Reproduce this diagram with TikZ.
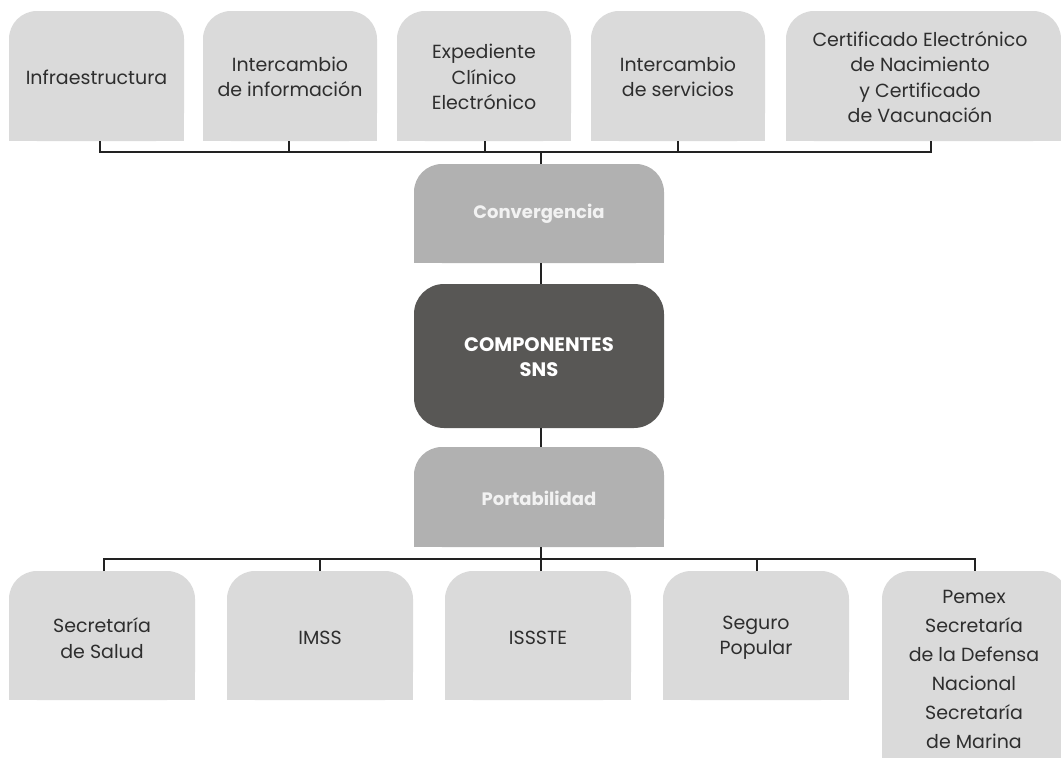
\documentclass[tikz,border=0pt]{standalone}
\usepackage{fontspec}
\setmainfont{Poppins}
\definecolor{lightbox}{HTML}{DADADA}
\definecolor{midbox}{HTML}{B1B1B1}
\definecolor{darkbox}{HTML}{585755}
\definecolor{txt}{HTML}{2E2E2E}
\definecolor{linec}{HTML}{222222}
\begin{document}
\begin{tikzpicture}[x=1pt,y=-1pt,
  boxtext/.style={text=txt,align=center,font=\fontsize{19}{25.5}\selectfont,inner sep=0pt},
  midtext/.style={text=white!95!black,align=center,font=\fontsize{18}{25}\selectfont\bfseries,inner sep=0pt},
  darktext/.style={text=white,align=center,font=\fontsize{19.5}{25}\selectfont\bfseries,inner sep=0pt},
  conn/.style={draw=linec,line width=1.1pt}]
\useasboundingbox (0,0) rectangle (1061,758);
\begin{scope}
\clip (0,0) rectangle (1061,758);
% top-rounded boxes: #1 x1, #2 y1, #3 x2, #4 y2, #5 colour
\newcommand{\tbox}[5]{%
  \fill[#5,rounded corners=28pt] (#1,#2) rectangle (#3,#4);
  \fill[#5] (#1,#2+40) rectangle (#3,#4);}
\tbox{9}{11}{184}{141}{lightbox}
\tbox{203}{11}{377}{141}{lightbox}
\tbox{397}{11}{571}{141}{lightbox}
\tbox{591}{11}{765}{141}{lightbox}
\tbox{786}{11}{1061}{141}{lightbox}
\tbox{414}{164}{664}{263}{midbox}
\fill[darkbox,rounded corners=30pt] (414,284) rectangle (664,428);
\tbox{414}{447}{664}{547}{midbox}
\tbox{9}{571}{195}{700}{lightbox}
\tbox{227}{571}{413}{700}{lightbox}
\tbox{445}{571}{631}{700}{lightbox}
\tbox{663}{571}{849}{700}{lightbox}
\tbox{882}{571}{1068}{780}{lightbox}
\end{scope}
% text nodes
\node[boxtext] (t1) at (96.5,77) {Infraestructura};
\node[boxtext] (t2) at (290,77) {Intercambio\\de información};
\node[boxtext] (t3) at (484,77) {Expediente\\Clínico\\Electrónico};
\node[boxtext] (t4) at (678,77) {Intercambio\\de servicios};
\node[boxtext] (t5) at (920,77) {Certificado Electrónico\\de Nacimiento\\y Certificado\\de Vacunación};
\node[midtext] (conv) at (539,214) {Convergencia};
\node[darktext] (comp) at (539,357) {COMPONENTES\\SNS};
\node[midtext] (port) at (539,498) {Portabilidad};
\node[boxtext] (b1) at (102,638) {Secretaría\\de Salud};
\node[boxtext] (b2) at (320,638) {IMSS};
\node[boxtext] (b3) at (538,638) {ISSSTE};
\node[boxtext] (b4) at (756,638) {Seguro\\Popular};
\node[boxtext,font=\fontsize{19}{29}\selectfont] (b5) at (974,669) {Pemex\\Secretaría\\de la Defensa\\Nacional\\Secretaría\\de Marina};
% anchor coordinates on box edges
\coordinate (t1s) at (100,141);
\coordinate (t2s) at (289,141);
\coordinate (t3s) at (485,141);
\coordinate (t4s) at (678,141);
\coordinate (t5s) at (931,141);
\coordinate (convN) at (541,164);
\coordinate (convS) at (541,263);
\coordinate (compN) at (541,284);
\coordinate (compS) at (541,428);
\coordinate (portN) at (541,447);
\coordinate (portS) at (541,547);
\coordinate (b1n) at (104,571);
\coordinate (b2n) at (320,571);
\coordinate (b3n) at (541,571);
\coordinate (b4n) at (757,571);
\coordinate (b5n) at (975,571);
% connectors
\draw[conn] (t1s) |- (t5s |- 0,152) -- (t5s);
\draw[conn] (t2s) -- (t2s |- 0,152);
\draw[conn] (t3s) -- (t3s |- 0,152);
\draw[conn] (t4s) -- (t4s |- 0,152);
\draw[conn] (convN) -- (convN |- 0,152);
\draw[conn] (convS) -- (compN);
\draw[conn] (compS) -- (portN);
\draw[conn] (b1n) |- (b5n |- 0,559) -- (b5n);
\draw[conn] (b2n) -- (b2n |- 0,559);
\draw[conn] (b3n) -- (portS);
\draw[conn] (b4n) -- (b4n |- 0,559);
\end{tikzpicture}
\end{document}
